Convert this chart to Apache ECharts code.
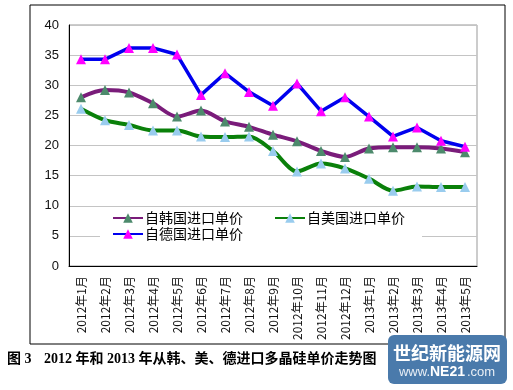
<!DOCTYPE html>
<html>
<head>
<meta charset="utf-8">
<script src="https://cdn.jsdelivr.net/npm/echarts@6/dist/echarts.min.js"></script>
<style>html,body{margin:0;padding:0;background:#fff;}#c{width:513px;height:390px;}</style>
</head>
<body>
<div id="c"></div>
<script>
var categories = ['2012年1月','2012年2月','2012年3月','2012年4月','2012年5月','2012年6月','2012年7月','2012年8月','2012年9月','2012年10月','2012年11月','2012年12月','2013年1月','2013年2月','2013年3月','2013年4月','2013年5月'];
var korea = [28.0, 29.2, 28.8, 27.0, 24.8, 25.8, 24.0, 23.1, 21.8, 20.7, 19.1, 18.1, 19.5, 19.7, 19.7, 19.5, 18.9];
var usa = [26.1, 24.2, 23.4, 22.5, 22.5, 21.5, 21.4, 21.5, 19.1, 15.7, 17.0, 16.2, 14.5, 12.5, 13.2, 13.1, 13.1];
var germany = [34.3, 34.3, 36.2, 36.2, 35.1, 28.4, 32.0, 28.9, 26.6, 30.3, 25.7, 28.0, 24.8, 21.5, 23.0, 20.8, 19.8];
var yTicks = {min: 0, max: 40, interval: 5};
var names = {korea: '自韩国进口单价', usa: '自美国进口单价', germany: '自德国进口单价'};
var captionLead = '图 3';
var caption = '2012 年和 2013 年从韩、美、德进口多晶硅单价走势图';

var chart = echarts.init(document.getElementById('c'));
var cjk = '"Noto Sans CJK SC", "Liberation Sans", sans-serif';
chart.setOption({
  backgroundColor: '#fff',
  animation: false,
  textStyle: {fontFamily: cjk},
  grid: {left: 69, right: 36, top: 25, bottom: 124, show: true, borderColor: '#999', borderWidth: 1},
  xAxis: {
    type: 'category', data: categories, boundaryGap: true,
    axisLine: {lineStyle: {color: '#000', width: 1}},
    axisTick: {inside: true, length: 4, lineStyle: {color: '#000'}},
    axisLabel: {rotate: 90, fontSize: 12, color: '#111', margin: 10, interval: 0, fontFamily: cjk}
  },
  yAxis: {
    type: 'value', min: yTicks.min, max: yTicks.max, interval: yTicks.interval,
    axisLine: {show: true, lineStyle: {color: '#000'}},
    axisTick: {show: false},
    axisLabel: {fontSize: 13, color: '#111', margin: 10, fontFamily: '"Liberation Sans", sans-serif'},
    splitLine: {lineStyle: {color: '#c4c4c4', width: 1}}
  },
  legend: [
    {data: [names.korea, names.germany], orient: 'vertical', left: 112, top: 211, itemGap: 2,
     itemWidth: 30, itemHeight: 12, textStyle: {fontSize: 14, color: '#000', padding: [0,0,0,-3]}, padding: 0, z: 5},
    {data: [names.usa], orient: 'vertical', left: 274, top: 211, itemGap: 2,
     itemWidth: 30, itemHeight: 12, textStyle: {fontSize: 14, color: '#000', padding: [0,0,0,-3]}, padding: 0, z: 5}
  ],
  graphic: [
    {type: 'rect', shape: {x: 30, y: 5, width: 475, height: 339}, style: {fill: 'none', stroke: '#000', lineWidth: 1}, z: 0, silent: true},
    {type: 'rect', shape: {x: 100, y: 210, width: 322, height: 36}, style: {fill: '#fff'}, z: 1, silent: true},
    {type: 'text', left: 7, top: 352, style: {text: captionLead, font: 'bold 14px "Liberation Serif", "Noto Sans CJK SC", serif', fill: '#000'}, z: 5},
    {type: 'text', left: 44, top: 352, style: {text: caption, font: 'bold 14px "Liberation Serif", "Noto Sans CJK SC", serif', fill: '#000'}, z: 5},
    {type: 'rect', shape: {x: 388, y: 335, width: 119, height: 49, r: 6}, style: {fill: '#4a7aab'}, z: 10},
    {type: 'text', x: 447, y: 353, style: {text: '世纪新能源网', font: 'bold 18px "Noto Sans CJK SC", sans-serif', fill: '#fff', align: 'center', verticalAlign: 'middle'}, z: 11},
    {type: 'text', x: 430, y: 372, style: {text: 'www.', font: '13px "Liberation Sans", sans-serif', fill: '#e8eef5', align: 'right', verticalAlign: 'middle'}, z: 11},
    {type: 'text', x: 430, y: 372, style: {text: 'NE21', font: 'bold 14px "Liberation Sans", sans-serif', fill: '#fff', align: 'left', verticalAlign: 'middle'}, z: 11},
    {type: 'text', x: 467, y: 372, style: {text: '.com', font: '13px "Liberation Sans", sans-serif', fill: '#e8eef5', align: 'left', verticalAlign: 'middle'}, z: 11}
  ],
  series: [
    {name: names.korea, type: 'line', data: korea, smooth: 0.3, symbol: 'triangle', symbolSize: 10,
     lineStyle: {color: '#7a1c7a', width: 4}, itemStyle: {color: '#4d8a6c'}, z: 3},
    {name: names.usa, type: 'line', data: usa, smooth: 0.3, symbol: 'triangle', symbolSize: 10,
     lineStyle: {color: '#0a800a', width: 4}, itemStyle: {color: '#99ccee'}, z: 3},
    {name: names.germany, type: 'line', data: germany, smooth: false, symbol: 'triangle', symbolSize: 10,
     lineStyle: {color: '#0000ee', width: 3.5}, itemStyle: {color: '#ff00ff'}, z: 3}
  ]
});
</script>
</body>
</html>
